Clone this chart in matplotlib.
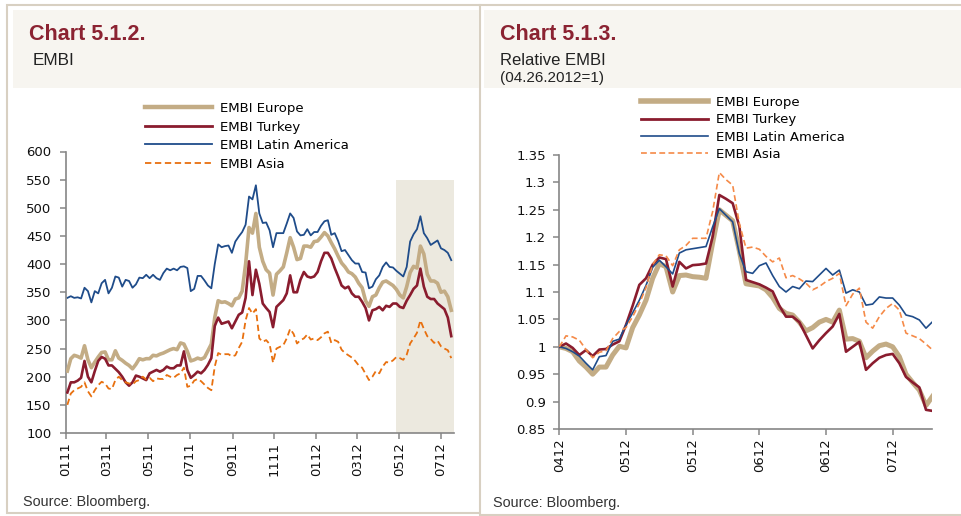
import matplotlib
matplotlib.use("Agg")
import matplotlib.pyplot as plt
from matplotlib.patches import Rectangle
from matplotlib.lines import Line2D
import numpy as np
import pandas as pd

# ---------------- data: Chart 5.1.2 (EMBI, bp) -----------------
left_start = "2011-01-03"
left_step = "5D"
embi_europe = [210, 232, 238, 236, 233, 255, 230, 216, 226, 235,
               243, 244, 230, 230, 246, 233, 229, 224, 220, 214,
               222, 232, 230, 232, 232, 238, 237, 240, 242, 245,
               248, 250, 248, 260, 258, 245, 228, 230, 233, 231,
               234, 246, 258, 305, 335, 332, 333, 330, 326, 338,
               340, 352, 400, 465, 455, 490, 430, 405, 390, 384,
               345, 382, 388, 395, 420, 447, 430, 408, 410, 432,
               432, 430, 440, 441, 448, 456, 450, 438, 427, 414,
               402, 395, 386, 383, 377, 366, 358, 335, 325, 342,
               345, 358, 368, 370, 366, 362, 355, 345, 340, 360,
               385, 396, 393, 432, 418, 382, 370, 370, 366, 350,
               352, 342, 318]
embi_turkey = [172, 190, 190, 193, 198, 228, 200, 190, 210, 228,
               235, 232, 220, 220, 214, 208, 200, 190, 184, 190,
               202, 200, 197, 194, 206, 209, 212, 209, 212, 218,
               215, 215, 220, 220, 245, 212, 198, 203, 209, 206,
               212, 221, 233, 290, 305, 294, 296, 298, 286, 298,
               310, 314, 340, 405, 345, 390, 365, 330, 322, 315,
               288, 324, 330, 336, 348, 380, 350, 350, 372, 386,
               378, 376, 378, 386, 405, 420, 420, 410, 393, 378,
               362, 357, 360, 348, 342, 342, 333, 322, 300, 318,
               320, 324, 318, 326, 324, 330, 330, 324, 322, 335,
               345, 356, 362, 392, 360, 342, 338, 338, 330, 325,
               320, 305, 272]
embi_latam = [340, 343, 340, 341, 339, 358, 352, 332, 352, 348,
              366, 372, 348, 358, 378, 376, 360, 372, 370, 358,
              364, 376, 375, 381, 375, 381, 375, 372, 384, 392,
              389, 392, 389, 395, 396, 393, 352, 356, 379, 379,
              371, 362, 357, 400, 435, 430, 432, 433, 420, 440,
              449, 457, 470, 520, 515, 540, 490, 473, 474, 460,
              430, 455, 455, 455, 472, 490, 482, 458, 451, 452,
              462, 451, 457, 457, 468, 476, 478, 452, 455, 441,
              423, 425, 416, 407, 401, 401, 386, 385, 357, 360,
              373, 380, 395, 403, 395, 394, 388, 383, 378, 395,
              440, 453, 462, 485, 455, 446, 434, 438, 442, 428,
              425, 420, 407]
embi_asia = [150, 170, 176, 179, 182, 190, 174, 165, 176, 185,
             191, 188, 179, 178, 194, 200, 194, 190, 188, 186,
             192, 194, 200, 195, 198, 192, 197, 196, 196, 203,
             200, 198, 203, 206, 216, 182, 184, 193, 196, 192,
             186, 180, 176, 218, 242, 239, 240, 240, 236, 238,
             251, 262, 300, 322, 312, 320, 268, 262, 265, 258,
             225, 250, 253, 256, 268, 285, 276, 259, 265, 268,
             275, 266, 268, 265, 270, 277, 280, 260, 265, 262,
             248, 242, 238, 234, 228, 220, 216, 205, 194, 200,
             210, 206, 218, 226, 225, 229, 235, 233, 230, 239,
             259, 268, 278, 300, 285, 272, 267, 260, 264, 254,
             250, 247, 233]
left_ticks = ["2011-01-01", "2011-03-01", "2011-05-01", "2011-07-01", "2011-09-01",
              "2011-11-01", "2012-01-01", "2012-03-01", "2012-05-01", "2012-07-01"]
left_ticklabels = ["0111", "0311", "0511", "0711", "0911", "1111", "0112", "0312", "0512", "0712"]
left_yticks = [100, 150, 200, 250, 300, 350, 400, 450, 500, 550, 600]

# ---------------- data: Chart 5.1.3 (relative EMBI) -----------------
rel_europe = [1.000, 0.997, 0.991, 0.974, 0.963, 0.950, 0.963, 0.963, 0.985, 1.001,
              0.998, 1.035, 1.058, 1.085, 1.125, 1.152, 1.146, 1.100, 1.130, 1.131,
              1.128, 1.127, 1.125, 1.190, 1.250, 1.240, 1.230, 1.175, 1.115, 1.113,
              1.111, 1.104, 1.090, 1.070, 1.061, 1.058, 1.045, 1.029, 1.035, 1.045,
              1.050, 1.045, 1.067, 1.014, 1.015, 1.010, 0.980, 0.992, 1.002, 1.005,
              1.000, 0.982, 0.950, 0.935, 0.921, 0.893, 0.910]
rel_turkey = [1.000, 1.006, 0.998, 0.985, 0.994, 0.983, 0.995, 0.996, 1.004, 1.010,
              1.040, 1.075, 1.113, 1.125, 1.150, 1.163, 1.160, 1.110, 1.155, 1.143,
              1.149, 1.150, 1.152, 1.201, 1.277, 1.270, 1.262, 1.220, 1.122, 1.118,
              1.114, 1.108, 1.101, 1.075, 1.055, 1.055, 1.045, 1.021, 0.997, 1.012,
              1.025, 1.037, 1.060, 0.991, 1.000, 1.009, 0.958, 0.970, 0.980, 0.985,
              0.987, 0.970, 0.945, 0.935, 0.926, 0.885, 0.883]
rel_latam = [1.000, 0.997, 0.991, 0.983, 0.970, 0.958, 0.982, 0.984, 1.010, 1.014,
             1.040, 1.062, 1.085, 1.112, 1.145, 1.158, 1.146, 1.133, 1.171, 1.177,
             1.179, 1.181, 1.183, 1.219, 1.252, 1.240, 1.228, 1.170, 1.137, 1.134,
             1.148, 1.153, 1.130, 1.110, 1.100, 1.110, 1.106, 1.120, 1.119, 1.131,
             1.143, 1.131, 1.140, 1.098, 1.104, 1.100, 1.076, 1.078, 1.091, 1.089,
             1.089, 1.076, 1.058, 1.055, 1.049, 1.034, 1.046]
rel_asia = [1.000, 1.020, 1.018, 1.012, 0.995, 0.980, 0.990, 0.993, 1.015, 1.028,
            1.035, 1.055, 1.079, 1.108, 1.150, 1.168, 1.166, 1.148, 1.177, 1.185,
            1.198, 1.198, 1.198, 1.247, 1.318, 1.305, 1.295, 1.225, 1.180, 1.182,
            1.178, 1.165, 1.155, 1.162, 1.126, 1.130, 1.124, 1.116, 1.104, 1.110,
            1.119, 1.125, 1.134, 1.075, 1.096, 1.107, 1.045, 1.034, 1.055, 1.070,
            1.079, 1.067, 1.025, 1.020, 1.015, 1.005, 0.994]
right_tick_pos = [0, 10, 20, 30, 40, 50]
right_ticklabels = ["0412", "0512", "0512", "0612", "0612", "0712"]
right_yticks = [0.85, 0.9, 0.95, 1.0, 1.05, 1.1, 1.15, 1.2, 1.25, 1.3, 1.35]
right_yticklabels = ["0.85", "0.9", "0.95", "1", "1.05", "1.1", "1.15", "1.2", "1.25", "1.3", "1.35"]

labels = ["EMBI Europe", "EMBI Turkey", "EMBI Latin America", "EMBI Asia"]

# ---------------- style -----------------
W, H = 961, 516
C_TAN = "#C3AC85"
C_RED = "#8A1C2E"
C_BLUE = "#1F4C8A"
C_ORANGE_L = "#E8700F"
C_ORANGE_R = "#F58A48"
C_AXIS = "#868686"
C_TITLE = "#8B2332"
C_BAND = "#F7F5F0"
C_BORDER = "#D8D0C2"
C_SHADE = "#ECE9DF"

plt.rcParams["font.family"] = ["DejaVu Sans"]
fig = plt.figure(figsize=(W / 100, H / 100), dpi=100)
fig.patch.set_facecolor("white")


def fx(x):
    return x / W


def fy(y):
    return 1 - y / H


# panel frames & title bands
fig.patches.append(Rectangle((fx(7), fy(513)), fx(480) - fx(7), fy(5) - fy(513),
                             transform=fig.transFigure, fill=False, edgecolor=C_BORDER, lw=1.5))
fig.lines.append(Line2D([fx(480), fx(961)], [fy(5), fy(5)], transform=fig.transFigure,
                        color=C_BORDER, lw=1.5))
fig.lines.append(Line2D([fx(480), fx(961)], [fy(515), fy(515)], transform=fig.transFigure,
                        color=C_BORDER, lw=1.5))
fig.patches.append(Rectangle((fx(13), fy(88)), fx(479) - fx(13), fy(10) - fy(88),
                             transform=fig.transFigure, facecolor=C_BAND, edgecolor="none"))
fig.patches.append(Rectangle((fx(484), fy(88)), fx(961) - fx(484), fy(10) - fy(88),
                             transform=fig.transFigure, facecolor=C_BAND, edgecolor="none"))

tfont = ["Liberation Sans", "DejaVu Sans"]
fig.text(fx(29), fy(40), "Chart 5.1.2.", color=C_TITLE, fontsize=15.5, fontweight="bold",
         family=tfont, va="baseline", ha="left")
fig.text(fx(33), fy(65), "EMBI", color="#222222", fontsize=12.3, family=tfont, va="baseline")
fig.text(fx(500), fy(40), "Chart 5.1.3.", color=C_TITLE, fontsize=15.5, fontweight="bold",
         family=tfont, va="baseline", ha="left")
fig.text(fx(500), fy(65), "Relative EMBI", color="#222222", fontsize=12, family=tfont, va="baseline")
fig.text(fx(500), fy(82), "(04.26.2012=1)", color="#222222", fontsize=11, family=tfont, va="baseline")
fig.text(fx(23), fy(506), "Source: Bloomberg.", color="#333333", fontsize=10.4, family=tfont, va="baseline")
fig.text(fx(493), fy(507), "Source: Bloomberg.", color="#333333", fontsize=10.4, family=tfont, va="baseline")


def style_axes(ax, ypad):
    for s in ["top", "right"]:
        ax.spines[s].set_visible(False)
    for s in ["left", "bottom"]:
        ax.spines[s].set_color(C_AXIS)
        ax.spines[s].set_linewidth(1.2)
    ax.tick_params(axis="both", colors=C_AXIS, labelcolor="#111111", labelsize=9.5,
                   length=4, width=1.1, direction="out")
    ax.tick_params(axis="y", pad=ypad)
    ax.tick_params(axis="x", pad=2.5, labelrotation=90)
    ax.set_facecolor("none")


# ---------------- left chart -----------------
ax1 = fig.add_axes([fx(66), fy(433), fx(454) - fx(66), fy(151.5) - fy(433)])
dates = pd.date_range(left_start, periods=len(embi_europe), freq=left_step)
x0 = pd.Timestamp("2011-01-01")
x1 = pd.Timestamp("2012-07-20")
ax1.fill_between([pd.Timestamp("2012-04-26"), x1], 100, 550, color=C_SHADE, lw=0, zorder=0)
ax1.plot(dates, embi_latam, color=C_BLUE, lw=1.3, zorder=2)
ax1.plot(dates, embi_europe, color=C_TAN, lw=2.6, zorder=3)
ax1.plot(dates, embi_turkey, color=C_RED, lw=1.9, zorder=4)
ax1.plot(dates, embi_asia, color=C_ORANGE_L, lw=1.3, ls=(0, (3.5, 2)), zorder=5)
ax1.set_xlim(x0, x1)
ax1.set_ylim(100, 600)
ax1.set_yticks(left_yticks)
ax1.set_xticks(pd.to_datetime(left_ticks))
ax1.set_xticklabels(left_ticklabels)
style_axes(ax1, 6.5)

h1 = [Line2D([], [], color=C_TAN, lw=3.2),
      Line2D([], [], color=C_RED, lw=2.0),
      Line2D([], [], color=C_BLUE, lw=1.3),
      Line2D([], [], color=C_ORANGE_L, lw=1.3, ls=(0, (3.5, 2)))]
fig.legend(h1, labels, loc="upper left", bbox_to_anchor=(fx(145), fy(102)),
           bbox_transform=fig.transFigure, frameon=False, fontsize=9.5,
           handlelength=5.1, handletextpad=0.6, labelspacing=0.42,
           borderpad=0, borderaxespad=0)

# ---------------- right chart -----------------
ax2 = fig.add_axes([fx(559), fy(429), fx(932) - fx(559), fy(155) - fy(429)])
k = np.arange(len(rel_europe))
ax2.plot(k, rel_europe, color=C_TAN, lw=3.6, zorder=2)
ax2.plot(k, rel_turkey, color=C_RED, lw=1.9, zorder=3)
ax2.plot(k, rel_latam, color=C_BLUE, lw=1.2, zorder=4)
ax2.plot(k, rel_asia, color=C_ORANGE_R, lw=1.2, ls=(0, (3.5, 2)), zorder=5)
ax2.set_xlim(-0.05, 55.9)
ax2.set_ylim(0.85, 1.35)
ax2.set_yticks(right_yticks)
ax2.set_yticklabels(right_yticklabels)
ax2.set_xticks(right_tick_pos)
ax2.set_xticklabels(right_ticklabels)
style_axes(ax2, 5.5)

h2 = [Line2D([], [], color=C_TAN, lw=4.0),
      Line2D([], [], color=C_RED, lw=2.0),
      Line2D([], [], color=C_BLUE, lw=1.2),
      Line2D([], [], color=C_ORANGE_R, lw=1.2, ls=(0, (3.5, 2)))]
fig.legend(h2, labels, loc="upper left", bbox_to_anchor=(fx(641), fy(96)),
           bbox_transform=fig.transFigure, frameon=False, fontsize=9.5,
           handlelength=5.1, handletextpad=0.6, labelspacing=0.33,
           borderpad=0, borderaxespad=0)

fig.savefig("out.png", dpi=100, facecolor="white")
